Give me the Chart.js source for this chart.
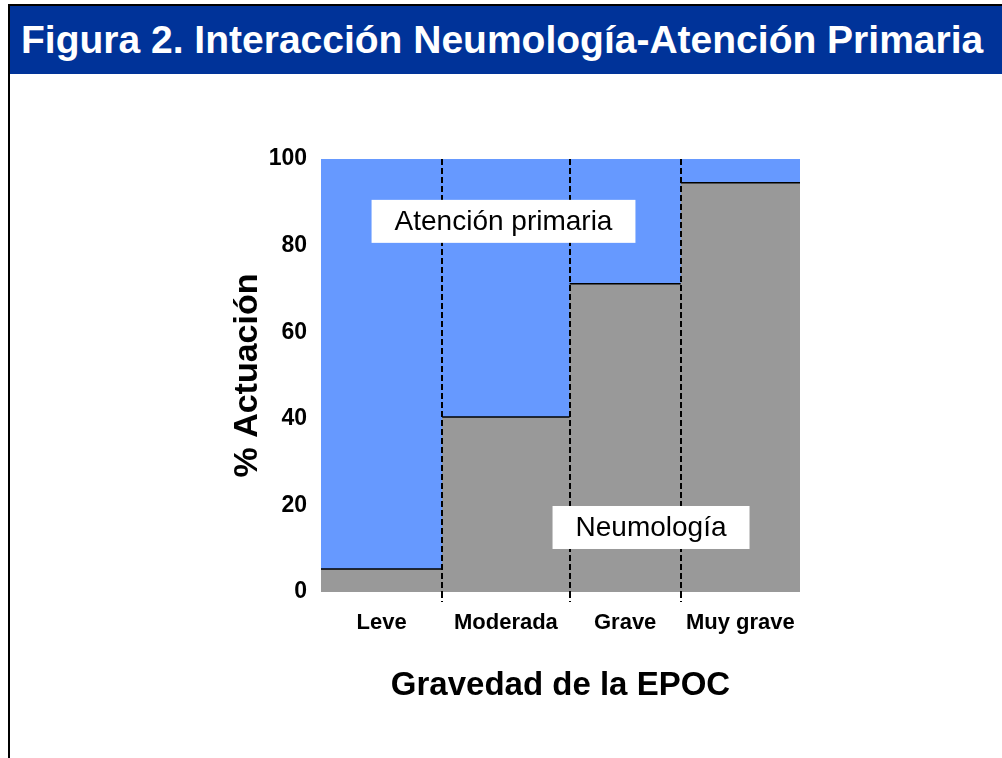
<!DOCTYPE html>
<html lang="es">
<head>
    <meta charset="UTF-8">
    <title>Figura 2. Interacción Neumología-Atención Primaria</title>
    <script src="https://cdn.jsdelivr.net/npm/chart.js"></script>
    <style>
        body { margin: 0; background: #fff; font-family: 'Liberation Sans', Arial, sans-serif; }
        .marco {
            position: absolute; left: 8px; top: 4px; width: 994px; height: 754px;
            border-left: 2px solid #000; border-top: 2px solid #000;
        }
        .cabecera {
            position: absolute; left: 10px; top: 6px; width: 981px; height: 68px;
            background: #003399; color: #fff; font-weight: bold; font-size: 39px;
            line-height: 68px; padding-left: 11px; white-space: nowrap;
        }
        #grafico { position: absolute; left: 0; top: 0; }
    </style>
</head>
<body>
    <div class="marco"></div>
    <div class="cabecera">Figura 2. Interacción Neumología-Atención Primaria</div>
    <canvas id="grafico" width="1002" height="758"></canvas>
    <script>
        // Datos
        const categorias = ['Leve', 'Moderada', 'Grave', 'Muy grave'];
        const anchuraColumnas = [25.3, 26.6, 23.2, 24.9]; // % del eje x
        const neumologia = [5.3, 40.4, 71.2, 94.5];
        const atencionPrimaria = [94.7, 59.6, 28.8, 5.5];
        const ticksY = [0, 20, 40, 60, 80, 100];

        const fuente = "'Liberation Sans', Arial, sans-serif";

        // limites de cada columna y su centro
        const limites = [0];
        anchuraColumnas.forEach(a => limites.push(+(limites[limites.length - 1] + a).toFixed(2)));
        const centros = categorias.map((c, i) => (limites[i] + limites[i + 1]) / 2);
        const limitesInternos = limites.slice(1, -1);

        // puntos escalonados (stepped 'before': cada valor se mantiene hasta el siguiente limite)
        function escalon(valores) {
            const pts = valores.map((v, i) => ({ x: limites[i], y: v }));
            pts.push({ x: limites[limites.length - 1], y: valores[valores.length - 1] });
            return pts;
        }

        // solo las lineas horizontales de arriba de cada columna gris
        const bordes = [];
        neumologia.forEach((v, i) => {
            bordes.push({ x: limites[i], y: v });
            bordes.push({ x: limites[i + 1], y: v });
            bordes.push({ x: limites[i + 1], y: null });
        });

        const etiquetas = [
            { texto: 'Atención primaria', x: 38.1, y: 85.6 },
            { texto: 'Neumología', x: 68.9, y: 14.9 }
        ];

        const pluginEtiquetas = {
            id: 'etiquetas',
            afterDraw(chart) {
                const ctx = chart.ctx;
                const sx = chart.scales.x, sy = chart.scales.y;
                ctx.save();
                ctx.font = '28px ' + fuente;
                ctx.textAlign = 'center';
                ctx.textBaseline = 'middle';
                etiquetas.forEach(e => {
                    const px = sx.getPixelForValue(e.x);
                    const py = sy.getPixelForValue(e.y);
                    const w = ctx.measureText(e.texto).width + 46;
                    const h = 43;
                    ctx.fillStyle = '#fff';
                    ctx.fillRect(px - w / 2, py - h / 2, w, h);
                    ctx.fillStyle = '#000';
                    ctx.fillText(e.texto, px, py + 1);
                });
                ctx.restore();
            }
        };

        const esLimite = c => limitesInternos.includes(c.tick && c.tick.value);

        const ctx = document.getElementById('grafico').getContext('2d');
        new Chart(ctx, {
            type: 'line',
            data: {
                datasets: [
                    {
                        label: 'bordes',
                        data: bordes,
                        borderColor: '#000',
                        borderWidth: 1.5,
                        spanGaps: false,
                        fill: false,
                        stack: 'bordes'
                    },
                    {
                        label: 'Neumología',
                        data: escalon(neumologia),
                        stepped: 'before',
                        borderWidth: 0,
                        borderColor: 'rgba(0,0,0,0)',
                        backgroundColor: '#999999',
                        fill: 'origin'
                    },
                    {
                        label: 'Atención primaria',
                        data: escalon(atencionPrimaria),
                        stepped: 'before',
                        borderWidth: 0,
                        borderColor: 'rgba(0,0,0,0)',
                        backgroundColor: '#6699FF',
                        fill: 'origin'
                    }
                ]
            },
            options: {
                responsive: false,
                animation: false,
                events: [],
                elements: { point: { radius: 0 }, line: { tension: 0 } },
                layout: { padding: { top: 159, right: 202, left: 0, bottom: 0 } },
                plugins: {
                    legend: { display: false },
                    tooltip: { enabled: false }
                },
                scales: {
                    x: {
                        type: 'linear',
                        min: 0,
                        max: 100,
                        afterBuildTicks: scale => {
                            scale.ticks = limites.concat(centros).sort((a, b) => a - b).map(v => ({ value: v }));
                        },
                        afterFit: scale => { scale.height = 166; },
                        grid: {
                            z: 1,
                            color: c => esLimite(c) ? '#000' : 'rgba(0,0,0,0)',
                            tickColor: c => esLimite(c) ? '#000' : 'rgba(0,0,0,0)',
                            lineWidth: 2,
                            tickWidth: 2,
                            tickLength: 10,
                            tickBorderDash: [6, 3]
                        },
                        border: { display: false, dash: [6, 3] },
                        ticks: {
                            autoSkip: false,
                            maxRotation: 0,
                            padding: 8,
                            color: '#000',
                            font: { family: fuente, size: 22, weight: 'bold' },
                            callback: v => {
                                const i = centros.findIndex(c => Math.abs(c - v) < 0.001);
                                return i >= 0 ? categorias[i] : '';
                            }
                        },
                        title: {
                            display: true,
                            text: 'Gravedad de la EPOC',
                            color: '#000',
                            font: { family: fuente, size: 33, weight: 'bold' },
                            padding: { top: 0, bottom: 52 }
                        }
                    },
                    y: {
                        stacked: true,
                        min: 0,
                        max: 100,
                        afterBuildTicks: scale => { scale.ticks = ticksY.map(v => ({ value: v })); },
                        afterFit: scale => { scale.width = 321; },
                        grid: { display: false, drawTicks: false },
                        border: { display: false },
                        ticks: {
                            padding: 14,
                            color: '#000',
                            font: { family: fuente, size: 23, weight: 'bold' }
                        },
                        title: {
                            display: true,
                            text: '% Actuación',
                            color: '#000',
                            font: { family: fuente, size: 34, weight: 'bold' },
                            padding: { top: 227, bottom: 0 }
                        }
                    }
                }
            },
            plugins: [pluginEtiquetas]
        });
    </script>
</body>
</html>
